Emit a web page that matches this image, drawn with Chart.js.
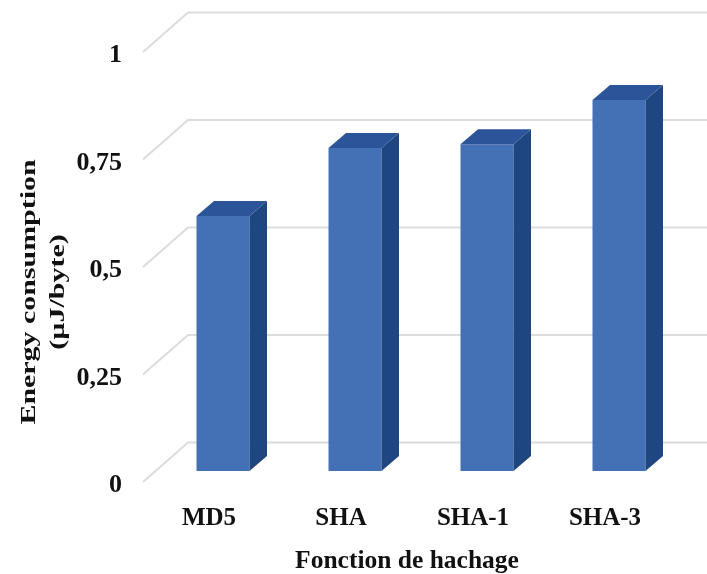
<!DOCTYPE html>
<html><head><meta charset="utf-8">
<style>html,body{margin:0;padding:0;background:#fff}canvas{display:block}</style>
<script src="https://cdn.jsdelivr.net/npm/chart.js@4"></script>
</head><body><canvas id="c" width="707" height="574"></canvas>
<script>
const categories = ['MD5', 'SHA', 'SHA-1', 'SHA-3'];
const energy = [0.593, 0.751, 0.76, 0.863];
const yTicks = [0, 0.25, 0.5, 0.75, 1];
const yTickLabels = ['0', '0,25', '0,5', '0,75', '1'];
const yTitle = ['Energy consumption', '(µJ/byte)'];
const xTitle = 'Fonction de hachage';

const FONT = '"Liberation Serif"';
const wall = {dx: 45, dy: -39.5, right: 707};
const barPlane = {dx: 14, dy: -11};
const barDepth = {dx: 17.5, dy: -15};
const colors = {front: '#4470B5', side: '#1E4681', top: '#2C5499', grid: '#DEDCDA', text: '#111111'};
const yTitleStretch = 1.36, yTitleShift = 25, yLabelShift = 3.5, xTitleShift = 3;

const box3d = {
  id: 'box3d',
  afterLayout(chart) {
    const s = chart.scales.y, sx = chart.scales.x;
    if (!s._wrapped) {
      const title = s.drawTitle, labels = s.drawLabels, xt = sx.drawTitle;
      s.drawTitle = function (a) {
        const c = this.ctx, mid = (this.top + this.bottom) / 2;
        c.save(); c.translate(0, mid + yTitleShift); c.scale(1, yTitleStretch); c.translate(0, -mid);
        title.call(this, a); c.restore();
      };
      s.drawLabels = function (a) {
        const c = this.ctx;
        c.save(); c.translate(0, yLabelShift); labels.call(this, a); c.restore();
      };
      sx.drawTitle = function (a) {
        const c = this.ctx;
        c.save(); c.translate(0, xTitleShift); xt.call(this, a); c.restore();
      };
      s._wrapped = true;
    }
  },
  beforeDatasetsDraw(chart) {
    const c = chart.ctx, y = chart.scales.y, a = chart.chartArea;
    c.save();
    c.strokeStyle = colors.grid; c.lineWidth = 2;
    yTicks.forEach(v => {
      const py = y.getPixelForValue(v);
      c.beginPath();
      c.moveTo(a.left, py);
      c.lineTo(a.left + wall.dx, py + wall.dy);
      c.lineTo(wall.right, py + wall.dy);
      c.stroke();
    });
    c.restore();
    c.save();
    c.translate(barPlane.dx, barPlane.dy);
  },
  afterDatasetsDraw(chart) {
    const c = chart.ctx;
    chart.getDatasetMeta(0).data.forEach(b => {
      const l = b.x - b.width / 2, r = b.x + b.width / 2, t = b.y, bt = b.base;
      const dx = barDepth.dx, dy = barDepth.dy;
      c.fillStyle = colors.side;
      c.beginPath(); c.moveTo(r, t); c.lineTo(r + dx, t + dy); c.lineTo(r + dx, bt + dy); c.lineTo(r, bt); c.closePath(); c.fill();
      c.fillStyle = colors.top;
      c.beginPath(); c.moveTo(l, t); c.lineTo(l + dx, t + dy); c.lineTo(r + dx, t + dy); c.lineTo(r, t); c.closePath(); c.fill();
    });
    c.restore();
  }
};

new Chart(document.getElementById('c'), {
  type: 'bar',
  data: {labels: categories, datasets: [{data: energy, backgroundColor: colors.front, borderWidth: 0,
    barPercentage: 53 / 132, categoryPercentage: 1}]},
  plugins: [box3d],
  options: {
    responsive: false, animation: false, events: [],
    layout: {padding: {top: 52, right: 36, left: 0, bottom: 0}},
    plugins: {legend: {display: false}, tooltip: {enabled: false}},
    scales: {
      x: {
        afterFit(s) { s.height = 92; },
        grid: {display: false}, border: {display: false},
        ticks: {color: colors.text, padding: 14, maxRotation: 0, font: {family: FONT, size: 25, weight: 'bold'}},
        title: {display: true, text: xTitle, color: colors.text, padding: {top: 0, bottom: 0}, font: {family: FONT, size: 25.5, weight: 'bold'}}
      },
      y: {
        min: 0, max: 1,
        afterFit(s) { s.width = 143; },
        afterBuildTicks(s) { s.ticks = yTicks.map(v => ({value: v})); },
        grid: {display: false}, border: {display: false},
        ticks: {color: colors.text, padding: 13, font: {family: FONT, size: 26, weight: 'bold'},
          callback: v => yTickLabels[yTicks.indexOf(v)]},
        title: {display: true, text: yTitle, color: colors.text, padding: {top: 14, bottom: 0}, font: {family: FONT, size: 22, weight: 'bold', lineHeight: 1.35}}
      }
    }
  }
});
</script></body></html>
